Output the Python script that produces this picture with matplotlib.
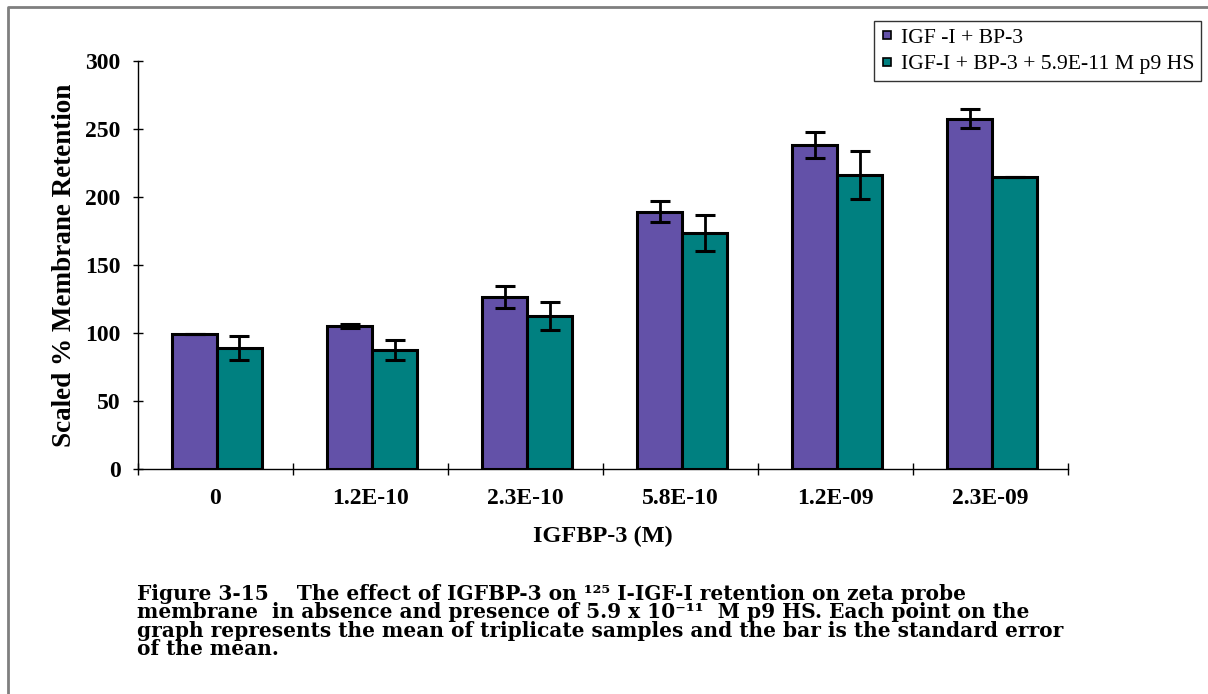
import numpy as np
import matplotlib.pyplot as plt
from matplotlib.lines import Line2D

# IGFBP-3 concentrations and retention values
concentrations = ['0', '1.2E-10', '2.3E-10', '5.8E-10', '1.2E-09', '2.3E-09']
bp3_mean = [99.5, 105, 126.5, 189, 238, 257.5]
bp3_err = [0, 1.5, 8, 7.7, 9.5, 7]
hs_mean = [89, 87.5, 112.5, 173.5, 216, 214.5]
hs_err = [9, 7, 10, 13, 17.5, 0]
series_names = ['IGF -I + BP-3', 'IGF-I + BP-3 + 5.9E-11 M p9 HS']

purple = '#6351a8'
teal = '#008080'
serif = ['Liberation Serif', 'DejaVu Serif']

fig = plt.figure(figsize=(12.08, 6.94), dpi=100)
ax = fig.add_axes([0.1142, 0.3242, 0.7700, 0.5879])

x = np.arange(len(concentrations))
w = 0.29
err_kw = dict(ecolor='black', elinewidth=2, capsize=7, capthick=2.2)
ax.bar(x - w / 2 + 0.01, bp3_mean, w, color=purple, edgecolor='black',
       linewidth=2.2, label=series_names[0], zorder=2)
ax.bar(x + w / 2 + 0.01, hs_mean, w, color=teal, edgecolor='black',
       linewidth=2.2, label=series_names[1], zorder=2)
ax.errorbar(x - w / 2 + 0.01, bp3_mean, yerr=bp3_err, fmt='none', zorder=3, **err_kw)
ax.errorbar(x + w / 2 + 0.01, hs_mean, yerr=hs_err, fmt='none', zorder=3, **err_kw)

ax.set_xlim(-0.5, len(concentrations) - 0.5)
ax.set_ylim(0, 300)
ax.set_yticks(np.arange(0, 301, 50))
ax.set_xticks(np.arange(-0.5, len(concentrations)), minor=False)
ax.set_xticklabels([])
ax.set_xticks(x, minor=True)
ax.set_xticklabels(concentrations, minor=True)
ax.tick_params(axis='x', which='major', direction='inout', length=8, width=1)
ax.tick_params(axis='x', which='minor', length=0, pad=14, labelsize=17)
ax.tick_params(axis='y', direction='inout', length=7, width=1, pad=9, labelsize=17)
for lab in ax.get_xticklabels(minor=True) + ax.get_yticklabels():
    lab.set_family(serif)
    lab.set_fontweight('bold')

for s in ['top', 'right']:
    ax.spines[s].set_visible(False)
for s in ['left', 'bottom']:
    ax.spines[s].set_linewidth(1)

ax.set_ylabel('Scaled % Membrane Retention', family=serif, fontweight='bold',
              fontsize=19.5, labelpad=6)
ax.set_xlabel('IGFBP-3 (M)', family=serif, fontweight='bold', fontsize=17.5,
              labelpad=12)

handles = [Line2D([], [], marker='s', linestyle='none', markersize=6,
                  markerfacecolor=c, markeredgecolor='black', markeredgewidth=1.2)
           for c in (purple, teal)]
leg = fig.legend(handles, series_names, loc='upper right',
                 bbox_to_anchor=(1201 / 1208, 1 - 21 / 694),
                 prop={'family': serif, 'size': 15.6}, frameon=True,
                 fancybox=False, edgecolor='black', handletextpad=0.35,
                 handlelength=0.6, borderpad=0.3, labelspacing=0.3,
                 borderaxespad=0)
leg.get_frame().set_linewidth(1)

# page frame
fx, fy = 8 / 1208, 1 - 7 / 694
fig.add_artist(Line2D([fx, fx, 1], [0, fy, fy], color='#7f7f7f', lw=2,
                      transform=fig.transFigure))

caption = ('Figure 3-15    The effect of IGFBP-3 on \u00b9\u00b2\u2075 I-IGF-I retention on zeta probe\n'
           'membrane  in absence and presence of 5.9 x 10\u207b\u00b9\u00b9  M p9 HS. Each point on the\n'
           'graph represents the mean of triplicate samples and the bar is the standard error\n'
           'of the mean.')
fig.text(137 / 1208, 1 - 584 / 694, caption, family=['DejaVu Serif'],
         fontweight='bold', fontsize=14.5, va='top', ha='left', linespacing=0.9)

fig.savefig('out.png', dpi=100)
